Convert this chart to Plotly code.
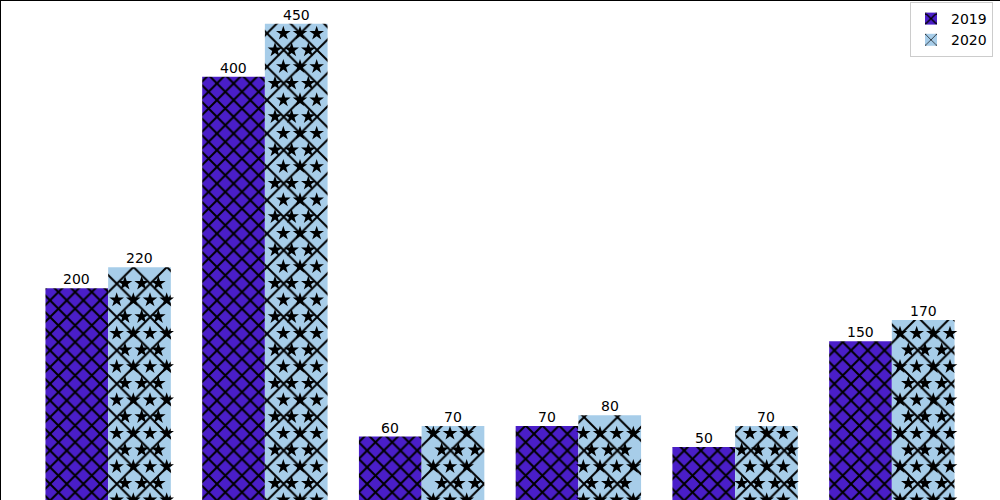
import numpy as np
import plotly.graph_objects as go

# ---- data ----
groups = [0, 1, 2, 3, 4, 5]
values_2019 = [200, 400, 60, 70, 50, 150]
values_2020 = [220, 450, 70, 80, 70, 170]
series_names = ["2019", "2020"]
colors = ["#4a1ec8", "#a7cde9"]

# ---- geometry ----
W, H = 1000, 500
bar_w = 0.4
x_range = [-0.69, 5.69]
y_max = max(values_2019 + values_2020) * 1.05
y_range = [0, y_max]


def px_x(x):
    return (x - x_range[0]) / (x_range[1] - x_range[0]) * W


def data_x(p):
    return x_range[0] + p / W * (x_range[1] - x_range[0])


def px_yb(y):
    return y / y_max * H


def data_y(p):
    return p / H * y_max


# star hatch decoration positions (matplotlib-like '*' hatch, 6 rows per 100px)
step = 100 / 6
margin = 3.5
star_x, star_y = [], []
for g, v in zip(groups, values_2020):
    left = px_x(g)
    right = px_x(g + bar_w)
    top = px_yb(v)
    k = 0
    while k * step <= top - margin:
        yb = k * step
        off = 0 if k % 2 == 0 else step / 2
        xs = np.arange(off, W + step, step)
        for xp in xs:
            if left + margin <= xp <= right - margin:
                star_x.append(data_x(xp))
                star_y.append(data_y(yb))
        k += 1

fig = go.Figure()
fig.add_trace(go.Bar(
    x=[g - bar_w / 2 for g in groups], y=values_2019, width=bar_w, name=series_names[0],
    marker=dict(color=colors[0], line=dict(width=0),
                pattern=dict(shape="x", size=11.8, solidity=0.31,
                             fgcolor="black", bgcolor=colors[0], fgopacity=1)),
    cliponaxis=False,
))
fig.add_trace(go.Bar(
    x=[g + bar_w / 2 for g in groups], y=values_2020, width=bar_w, name=series_names[1],
    marker=dict(color=colors[1], line=dict(width=0),
                pattern=dict(shape="x", size=23.6, solidity=0.16,
                             fgcolor="black", bgcolor=colors[1], fgopacity=1)),
    cliponaxis=False,
))
fig.add_trace(go.Scatter(
    x=star_x, y=star_y, mode="markers", showlegend=False, hoverinfo="skip",
    marker=dict(symbol="star", size=11, color="black", line=dict(width=0)),
))

annotations = []
for off, vals in ((-bar_w / 2, values_2019), (bar_w / 2, values_2020)):
    for g, v in zip(groups, vals):
        annotations.append(dict(
            x=g + off, y=v, xref="x", yref="y", text=str(v), showarrow=False,
            xanchor="center", yanchor="bottom", yshift=-1,
            font=dict(size=14, color="black", family="DejaVu Sans"),
        ))

fig.update_layout(
    width=W, height=H,
    margin=dict(l=0, r=0, t=0, b=0),
    paper_bgcolor="white", plot_bgcolor="white",
    barmode="overlay",
    font=dict(family="DejaVu Sans", size=14, color="black"),
    xaxis=dict(range=x_range, showticklabels=False, showgrid=False, zeroline=False,
               ticks="", showline=False),
    yaxis=dict(range=y_range, showticklabels=False, showgrid=False, zeroline=False,
               ticks="", showline=False),
    legend=dict(x=0.993, y=0.996, xanchor="right", yanchor="top",
                bgcolor="white", bordercolor="#cccccc", borderwidth=1,
                font=dict(size=14, family="DejaVu Sans")),
    annotations=annotations,
    shapes=[
        dict(type="line", xref="paper", yref="paper", x0=0, x1=0, y0=0, y1=1,
             line=dict(color="black", width=2)),
        dict(type="line", xref="paper", yref="paper", x0=0, x1=1, y0=1, y1=1,
             line=dict(color="black", width=2)),
    ],
)

fig.write_html("out.html")
